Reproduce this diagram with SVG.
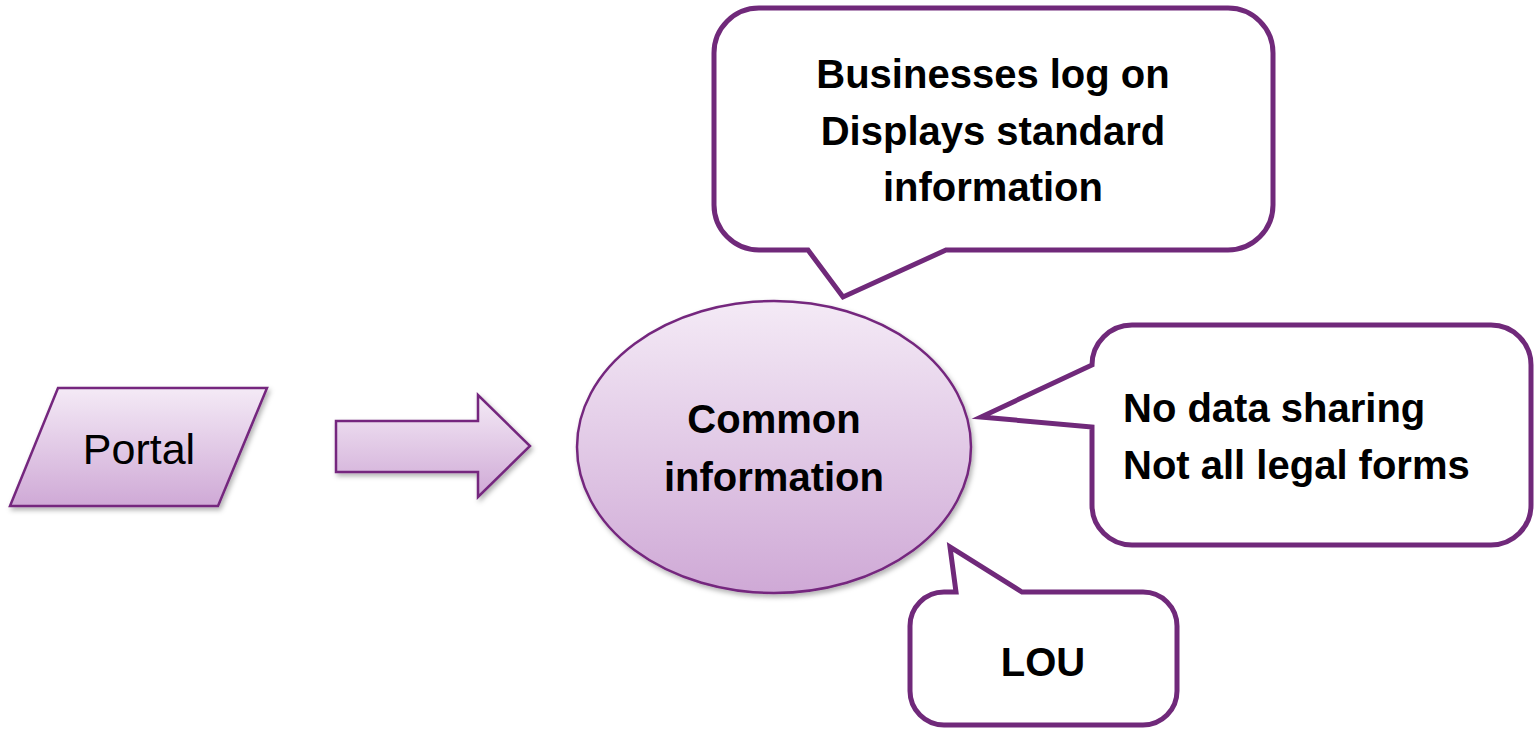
<svg xmlns="http://www.w3.org/2000/svg" width="1536" height="729" viewBox="0 0 1536 729">
<defs>
<linearGradient id="g" x1="0" y1="0" x2="0" y2="1">
<stop offset="0" stop-color="#f4eaf6"/>
<stop offset="1" stop-color="#cfa9d6"/>
</linearGradient>
<filter id="sh" x="-10%" y="-10%" width="130%" height="130%">
<feDropShadow dx="2" dy="3" stdDeviation="2.5" flood-color="#000" flood-opacity="0.3"/>
</filter>
</defs>
<style>
.shape{fill:url(#g);stroke:#74287e;stroke-width:2.5;filter:url(#sh)}
.call{fill:#fff;stroke:#70297a;stroke-width:5;stroke-linejoin:miter}
.b{font-family:"Liberation Sans",Arial,sans-serif;font-weight:bold;font-size:40px;fill:#000}
.r{font-family:"Liberation Sans",Arial,sans-serif;font-size:43px;fill:#000}
</style>
<g id="portal">
<polygon class="shape" points="58,388 267,388 218,506 10,506"/>
<text class="r" x="139" y="464" text-anchor="middle">Portal</text>
</g>
<g id="connectors">
<polygon class="shape" points="336,421 478,421 478,395 530,446 478,497 478,472 336,472"/>
</g>
<g id="common">
<ellipse class="shape" cx="774" cy="447" rx="197" ry="146"/>
<text class="b" x="774" y="433" text-anchor="middle" font-size="41">Common</text>
<text class="b" x="774" y="491" text-anchor="middle" font-size="43">information</text>
</g>
<g id="callout-top">
<path class="call" d="M759,8 H1228 A45,45 0 0 1 1273,53 V205 A45,45 0 0 1 1228,250 H946 L843,297 L808,250 H759 A45,45 0 0 1 714,205 V53 A45,45 0 0 1 759,8 Z"/>
<text class="b" x="993" y="88" text-anchor="middle">Businesses log on</text>
<text class="b" x="993" y="145" text-anchor="middle">Displays standard</text>
<text class="b" x="993" y="201" text-anchor="middle" font-size="43">information</text>
</g>
<g id="callout-right">
<path class="call" d="M1132,325 H1491 A40,40 0 0 1 1531,365 V505 A40,40 0 0 1 1491,545 H1132 A40,40 0 0 1 1092,505 V427 L981,417 L1092,365 A40,40 0 0 1 1132,325 Z"/>
<text class="b" x="1123" y="422" font-size="41">No data sharing</text>
<text class="b" x="1123" y="479" font-size="41">Not all legal forms</text>
</g>
<g id="callout-lou">
<path class="call" d="M944,592 H956 L950,547 L1022,592 H1143 A34,34 0 0 1 1177,626 V691 A34,34 0 0 1 1143,725 H944 A34,34 0 0 1 910,691 V626 A34,34 0 0 1 944,592 Z"/>
<text class="b" x="1043" y="676" text-anchor="middle" font-size="38">LOU</text>
</g>
</svg>
